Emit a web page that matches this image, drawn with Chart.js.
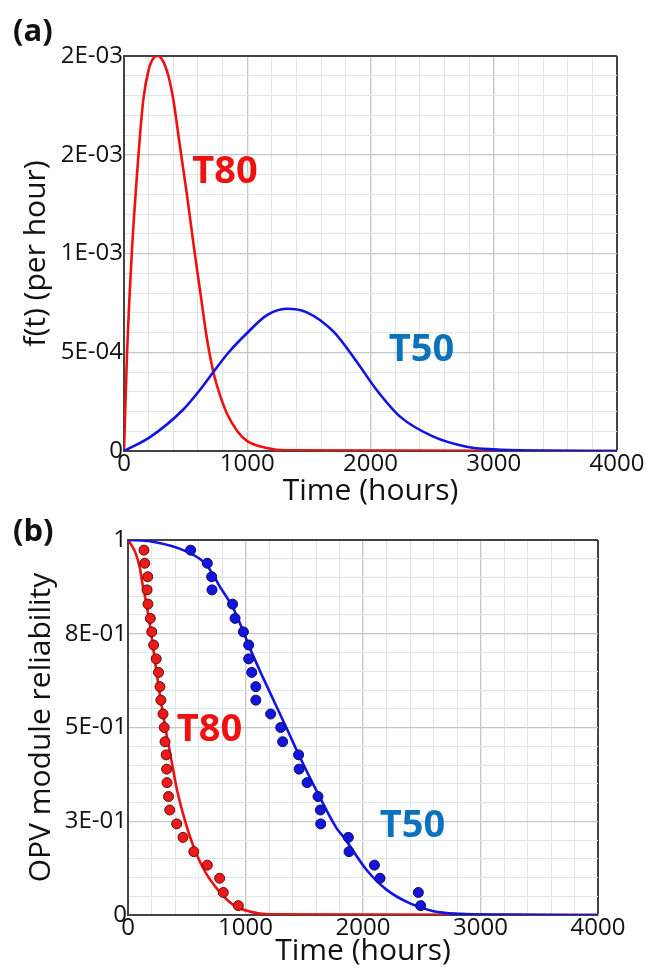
<!DOCTYPE html>
<html>
<head>
<meta charset="utf-8">
<script src="https://cdn.jsdelivr.net/npm/chart.js@4.4.1/dist/chart.umd.min.js"></script>
<style>
  body { margin: 0; background: #fff; width: 652px; height: 970px; position: relative; overflow: hidden; font-family: "Open Sans", sans-serif; }
  canvas { position: absolute; left: 0; }
  .panel { position: absolute; left: 13px; font-weight: bold; font-size: 31px; line-height: 31px; color: #111; z-index: 2; }
</style>
</head>
<body>
<canvas id="chartA" width="652" height="520" style="top:0"></canvas>
<canvas id="chartB" width="652" height="450" style="top:520px"></canvas>
<div class="panel" style="top:14px">(a)</div>
<div class="panel" style="top:514px">(b)</div>
<script>
// ---- (a) probability density f(t), per hour ----
const pdfT80Hours  = [0, 25, 65, 120, 157, 200, 240, 276, 320, 360, 400, 450, 510, 570, 620, 670, 725, 780, 835, 920, 1000, 1160, 1300, 4000];
const pdfT80Values = [0, 0.0005, 0.00102, 0.00152, 0.00178, 0.00193, 0.00199, 0.002, 0.00197, 0.0019, 0.00178, 0.00156, 0.0013, 0.00102, 0.0008, 0.00058, 0.0004, 0.00028, 0.00019, 0.0001, 0.00005, 0.000015, 0.000003, 0];
const pdfT50Hours  = [0, 211, 481, 617, 725, 850, 995, 1160, 1320, 1483, 1700, 1888, 2050, 2240, 2510, 2780, 3000, 3300, 4000];
const pdfT50Values = [0, 0.00007, 0.00021, 0.00031, 0.0004, 0.0005, 0.000595, 0.000688, 0.00072, 0.000702, 0.000604, 0.000452, 0.000309, 0.000174, 0.000073, 0.000022, 0.000008, 0.000002, 0];
const pdfTickLabels = ['0', '5E-04', '1E-03', '2E-03', '2E-03'];

// ---- (b) OPV module reliability R(t) ----
const relT80Hours  = [0, 60, 102, 125, 153, 182, 207, 238, 267, 295, 329, 372, 414, 471, 542, 641, 755, 896, 1038, 1200, 4000];
const relT80Values = [1, 0.969, 0.924, 0.88, 0.836, 0.782, 0.729, 0.658, 0.596, 0.542, 0.48, 0.409, 0.338, 0.267, 0.196, 0.124, 0.071, 0.027, 0.009, 0.002, 0];
const relT50Hours  = [0, 200, 500, 670, 783, 896, 981, 1038, 1152, 1350, 1464, 1634, 1776, 1833, 2031, 2202, 2400, 2600, 2830, 3100, 4000];
const relT50Values = [1, 0.996, 0.969, 0.933, 0.875, 0.818, 0.756, 0.711, 0.631, 0.498, 0.42, 0.313, 0.231, 0.209, 0.12, 0.067, 0.031, 0.01, 0.003, 0.001, 0];
// observed failures (median rank reliability) for both sets
const observedReliability = [0.973, 0.938, 0.902, 0.867, 0.829, 0.791, 0.755, 0.72, 0.683, 0.647, 0.609, 0.573, 0.536, 0.5, 0.462, 0.427, 0.389, 0.353, 0.316, 0.28, 0.243, 0.207, 0.169, 0.133, 0.098, 0.06, 0.025];
const obsT80Hours = [136, 143, 168, 162, 170, 190, 202, 218, 240, 260, 272, 280, 298, 308, 315, 325, 329, 332, 345, 355, 414, 468, 560, 675, 780, 811, 939];
const obsT50Hours = [533, 675, 712, 715, 890, 911, 982, 1027, 1027, 1053, 1088, 1088, 1214, 1300, 1316, 1452, 1456, 1524, 1617, 1637, 1640, 1875, 1881, 2097, 2145, 2471, 2491];
const relTickLabels = ['0', '3E-01', '5E-01', '8E-01', '1'];

const timeTickLabels = ['0', '1000', '2000', '3000', '4000'];

const FONT = '"Open Sans", sans-serif';
const INK = '#111';
const RED = '#f01010';
const BLUE = '#1212e6';
const LABEL_BLUE = '#0b72bd';

function toXY(xs, ys){
    return xs.map((x, i) => ({x: x, y: ys[i]}));
}

// five minor lines per major one, frame drawn on the last line
function gridColor(ctx){
    if (ctx.index === 20) return '#444';
    return ctx.index % 5 === 0 ? '#c6c6c6' : '#dde8e4';
}
function gridWidth(ctx){
    if (ctx.index === 20) return 2;
    return ctx.index % 5 === 0 ? 1.3 : 1;
}

function curveLabels(labels){
    return {
        id: 'curveLabels',
        afterDatasetsDraw(chart){
            const ctx = chart.ctx;
            ctx.save();
            ctx.font = 'bold 38px ' + FONT;
            ctx.textAlign = 'center';
            ctx.textBaseline = 'middle';
            labels.forEach(l => {
                ctx.fillStyle = l.color;
                ctx.fillText(l.text, chart.scales.x.getPixelForValue(l.x), chart.scales.y.getPixelForValue(l.y));
            });
            ctx.restore();
        }
    };
}

function makeScales(yMax, yStep, yLabels, yTitle, yTitlePad, xHeight, xTitlePad, yWidth){
    return {
        x: {
            type: 'linear', min: 0, max: 4000,
            ticks: {
                stepSize: 200, autoSkip: false, maxRotation: 0, padding: 1,
                color: INK, font: {family: FONT, size: 24, lineHeight: 1},
                callback: (v, i) => i % 5 === 0 ? timeTickLabels[i / 5] : ''
            },
            grid: {color: gridColor, lineWidth: gridWidth, drawTicks: false},
            border: {color: '#444', width: 2},
            title: {display: true, text: 'Time (hours)', color: INK, font: {family: FONT, size: 30}, padding: {top: 0, bottom: xTitlePad}},
            afterFit: s => { s.height = xHeight; }
        },
        y: {
            type: 'linear', min: 0, max: yMax,
            ticks: {
                stepSize: yStep, autoSkip: false, padding: 1,
                color: INK, font: {family: FONT, size: 24, lineHeight: 1},
                callback: (v, i) => i % 5 === 0 ? yLabels[i / 5] : ''
            },
            grid: {color: gridColor, lineWidth: gridWidth, drawTicks: false},
            border: {color: '#444', width: 2},
            title: {display: true, text: yTitle, color: INK, font: {family: FONT, size: 30}, padding: {top: yTitlePad, bottom: 0}},
            afterFit: s => { s.width = yWidth; }
        }
    };
}

new Chart(document.getElementById('chartA'), {
    type: 'scatter',
    data: {
        datasets: [
            {label: 'T50', data: toXY(pdfT50Hours, pdfT50Values), showLine: true, borderColor: BLUE, borderWidth: 2.6, pointRadius: 0, cubicInterpolationMode: 'monotone'},
            {label: 'T80', data: toXY(pdfT80Hours, pdfT80Values), showLine: true, borderColor: RED, borderWidth: 2.6, pointRadius: 0, cubicInterpolationMode: 'monotone'}
        ]
    },
    options: {
        responsive: false, animation: false,
        layout: {padding: {top: 56, right: 35, left: 0, bottom: 0}},
        plugins: {legend: {display: false}, tooltip: {enabled: false}},
        scales: makeScales(0.002, 0.0001, pdfTickLabels, 'f(t) (per hour)', 18, 69, 11, 124)
    },
    plugins: [curveLabels([
        {text: 'T80', x: 819, y: 0.001413, color: RED},
        {text: 'T50', x: 2414, y: 0.000511, color: LABEL_BLUE}
    ])]
});

new Chart(document.getElementById('chartB'), {
    type: 'scatter',
    data: {
        datasets: [
            {label: 'T50 data', data: toXY(obsT50Hours, observedReliability), pointRadius: 5, pointBackgroundColor: '#1414e0', pointBorderColor: '#0a0a60', pointBorderWidth: 1},
            {label: 'T80 data', data: toXY(obsT80Hours, observedReliability), pointRadius: 5, pointBackgroundColor: '#ee1a1a', pointBorderColor: '#5a1010', pointBorderWidth: 1},
            {label: 'T50', data: toXY(relT50Hours, relT50Values), showLine: true, borderColor: BLUE, borderWidth: 2.6, pointRadius: 0, cubicInterpolationMode: 'monotone'},
            {label: 'T80', data: toXY(relT80Hours, relT80Values), showLine: true, borderColor: RED, borderWidth: 2.6, pointRadius: 0, cubicInterpolationMode: 'monotone'}
        ]
    },
    options: {
        responsive: false, animation: false,
        layout: {padding: {top: 20, right: 54, left: 0, bottom: 0}},
        plugins: {legend: {display: false}, tooltip: {enabled: false}},
        scales: makeScales(1, 0.05, relTickLabels, 'OPV module reliability', 23, 55, 1, 128)
    },
    plugins: [curveLabels([
        {text: 'T80', x: 694, y: 0.493, color: RED},
        {text: 'T50', x: 2421, y: 0.236, color: LABEL_BLUE}
    ])]
});
</script>
</body>
</html>
